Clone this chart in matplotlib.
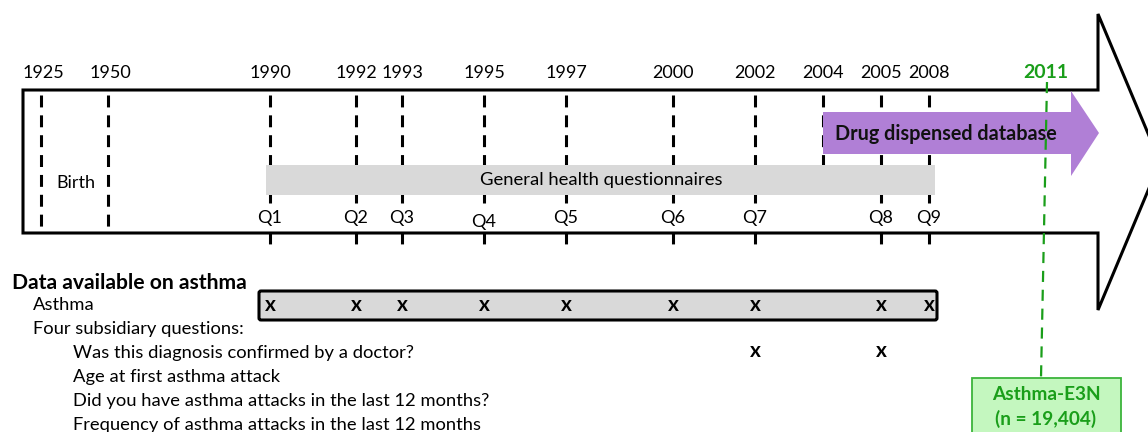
import matplotlib.pyplot as plt
from matplotlib.patches import Polygon, FancyBboxPatch, Rectangle

plt.rcParams['font.family'] = ['Lato', 'DejaVu Sans']

# timeline data
early_years = ['1925', '1950']
early_x = [41, 108]
quest_years = ['1990', '1992', '1993', '1995', '1997', '2000', '2002', '2005', '2008']
quest_labels = ['Q1', 'Q2', 'Q3', 'Q4', 'Q5', 'Q6', 'Q7', 'Q8', 'Q9']
quest_x = [270, 356, 402, 484, 566, 673, 755, 881, 929]
drug_year = '2004'
drug_x = 823
cohort_year = '2011'

asthma_marks = quest_labels  # asthma question asked at every wave
doctor_marks = ['Q7', 'Q8']

left_lines = ['Asthma', 'Four subsidiary questions:']
sub_questions = ['Was this diagnosis confirmed by a doctor?',
                 'Age at first asthma attack',
                 'Did you have asthma attacks in the last 12 months?',
                 'Frequency of asthma attacks in the last 12 months']


def main():
    fig = plt.figure(figsize=(11.48, 4.32), dpi=100)
    ax = fig.add_axes([0, 0, 1, 1])
    ax.set_xlim(0, 1148)
    ax.set_ylim(432, 0)
    ax.axis('off')

    # big arrow outline
    arrow = Polygon([(23, 90), (1098, 90), (1098, 14), (1160, 162),
                     (1098, 310), (1098, 233), (23, 233)],
                    closed=True, fc='white', ec='black', lw=2.2, zorder=1)
    ax.add_patch(arrow)

    # drug dispensed arrow (covers the dashed lines)
    purple = '#b07fd6'
    drug = Polygon([(drug_x, 112), (1071, 112), (1071, 91), (1099, 133),
                    (1071, 176), (1071, 154), (drug_x, 154)],
                   closed=True, fc=purple, ec='none', zorder=4)
    ax.add_patch(drug)
    ax.text(835, 134, 'Drug dispensed database', fontsize=14.2, fontweight='bold',
            ha='left', va='center', color='#111111', zorder=5)

    # grey questionnaire band (covers the dashed lines)
    ax.add_patch(Rectangle((266, 165), 935 - 266, 30, fc='#d9d9d9', ec='none', zorder=4))
    ax.text(601, 180, 'General health questionnaires', fontsize=13.3, ha='center',
            va='center', zorder=5)

    dash = (0, (3.9, 2.6))
    # early dashed lines
    for lab, x in zip(early_years, early_x):
        ax.plot([x, x], [95, 234], color='black', lw=2.2, ls=dash, zorder=3)
        ax.text(x + 2, 73, lab, fontsize=13, ha='center', va='center')
    ax.text(76, 183, 'Birth', fontsize=13, ha='center', va='center')

    # questionnaire dashed lines, broken around the Q labels
    for yr, q, x in zip(quest_years, quest_labels, quest_x):
        ax.plot([x, x], [95, 203], color='black', lw=2.2, ls=dash, zorder=3)
        ax.plot([x, x], [232, 244], color='black', lw=2.2, ls=dash, zorder=3)
        ax.text(x, 73, yr, fontsize=13, ha='center', va='center')
        qy = 222 if q == 'Q4' else 218
        ax.text(x, qy, q, fontsize=13, ha='center', va='center', zorder=4)

    ax.plot([drug_x, drug_x], [95, 170], color='black', lw=2.2, ls=dash, zorder=1.5)
    ax.text(drug_x, 73, drug_year, fontsize=13, ha='center', va='center')

    # 2011 cohort line
    green = '#1a9e1a'
    ax.plot([1047, 1041], [82, 378], color=green, lw=1.6, ls=(0, (5, 3.5)), zorder=6)
    ax.text(1046, 72, cohort_year, fontsize=14, fontweight='bold', color=green,
            ha='center', va='center')
    ax.add_patch(Rectangle((972, 378), 149, 70, fc='#c4f7bf', ec='#3cb43c', lw=1.3, zorder=6))
    ax.text(1046, 395, 'Asthma-E3N', fontsize=13.7, fontweight='bold', color=green,
            ha='center', va='center', zorder=7)
    ax.text(1046, 419, '(n = 19,404)', fontsize=13.7, fontweight='bold', color=green,
            ha='center', va='center', zorder=7)

    # data available section
    ax.text(12, 283, 'Data available on asthma', fontsize=15.2, fontweight='bold',
            ha='left', va='center')
    ax.text(33, 305, left_lines[0], fontsize=13.2, ha='left', va='center')
    ax.text(33, 329, left_lines[1], fontsize=13.2, ha='left', va='center')
    for i, s in enumerate(sub_questions):
        ax.text(73, 353 + i * 24, s, fontsize=13.2, ha='left', va='center')

    box = FancyBboxPatch((259, 291), 678, 29, boxstyle='round,pad=0,rounding_size=2',
                         fc='#d9d9d9', ec='black', lw=2.2, zorder=2)
    ax.add_patch(box)
    qpos = dict(zip(quest_labels, quest_x))
    for q in asthma_marks:
        ax.text(qpos[q], 305, 'x', fontsize=15, fontweight='bold', ha='center',
                va='center', zorder=4)
    for q in doctor_marks:
        ax.text(qpos[q], 351, 'x', fontsize=15, fontweight='bold', ha='center',
                va='center', zorder=4)

    fig.savefig('out.png', dpi=100)


if __name__ == "__main__":
    main()
